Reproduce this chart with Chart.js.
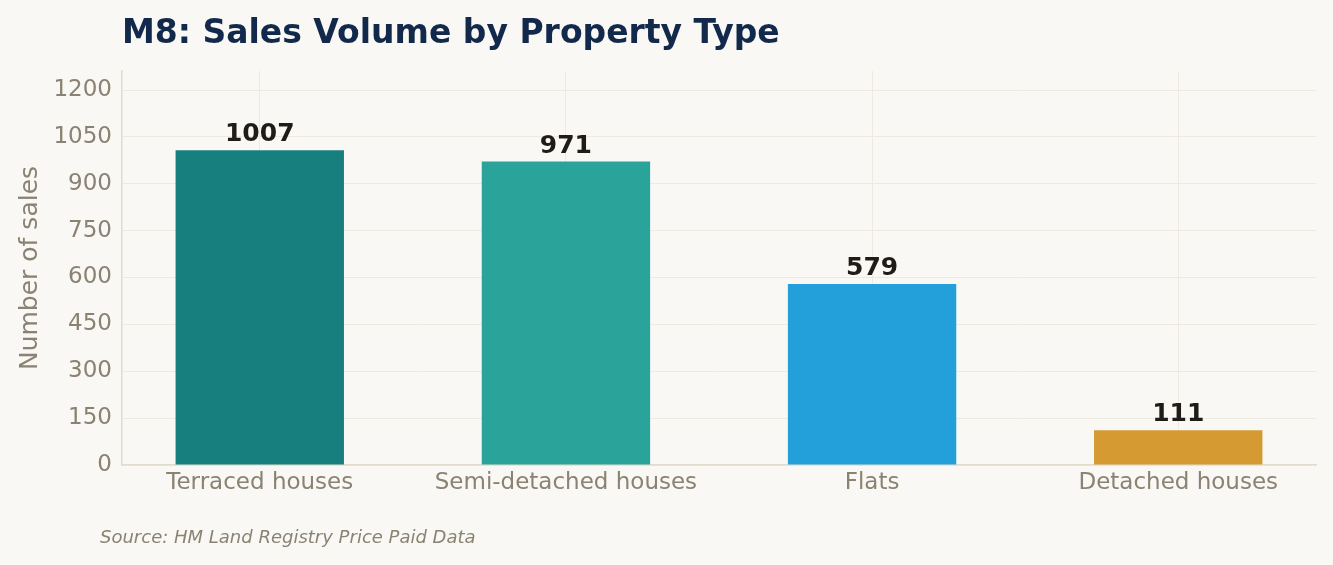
<!DOCTYPE html>
<html>
<head>
<meta charset="utf-8">
<script src="https://cdn.jsdelivr.net/npm/chart.js@4"></script>
<style>
  html, body { margin: 0; padding: 0; background: #f9f8f4; }
  #wrap { width: 1333px; height: 565px; }
</style>
</head>
<body>
<div id="wrap"><canvas id="salesChart" width="1333" height="565"></canvas></div>
<script>
'use strict';

// Chart data
const categories = ['Terraced houses', 'Semi-detached houses', 'Flats', 'Detached houses'];
const salesCounts = [1007, 971, 579, 111];
const barColors = ['#17807e', '#2aa39b', '#239fd9', '#d69a32'];

const chartTitle = 'M8: Sales Volume by Property Type';
const yAxisTitle = 'Number of sales';
const sourceNote = 'Source: HM Land Registry Price Paid Data';

const FONT = '"DejaVu Sans", Verdana, sans-serif';
const MUTED = '#8a8272';

/**
 * Draws the title, the y-axis label, the source note and the value labels above the bars.
 */
const annotations = {
    id: 'annotations',
    afterDatasetsDraw(chart) {
        const ctx = chart.ctx;
        const meta = chart.getDatasetMeta(0);
        ctx.save();
        ctx.fillStyle = '#1f1b16';
        ctx.font = 'bold 25px ' + FONT;
        ctx.textAlign = 'center';
        ctx.textBaseline = 'alphabetic';
        meta.data.forEach((bar, i) => {
            ctx.fillText(String(salesCounts[i]), bar.x, bar.y - 9);
        });
        ctx.restore();
    },
    afterDraw(chart) {
        const ctx = chart.ctx;
        ctx.save();
        // Title
        ctx.fillStyle = '#13294b';
        ctx.font = 'bold 33px ' + FONT;
        ctx.textAlign = 'left';
        ctx.textBaseline = 'alphabetic';
        ctx.fillText(chartTitle, 122, 43);

        // Y axis title (rotated)
        ctx.fillStyle = MUTED;
        ctx.font = '25px ' + FONT;
        ctx.translate(30, (chart.chartArea.top + chart.chartArea.bottom) / 2);
        ctx.rotate(-Math.PI / 2);
        ctx.textAlign = 'center';
        ctx.textBaseline = 'middle';
        ctx.fillText(yAxisTitle, 0, 0);
        ctx.restore();

        // Source note
        ctx.save();
        ctx.fillStyle = MUTED;
        ctx.font = 'italic 18px ' + FONT;
        ctx.textAlign = 'left';
        ctx.textBaseline = 'alphabetic';
        ctx.fillText(sourceNote, 100, 543);
        ctx.restore();
    }
};

new Chart(document.getElementById('salesChart').getContext('2d'), {
    type: 'bar',
    data: {
        datasets: [{
            data: salesCounts.map((v, i) => ({ x: i, y: v })),
            backgroundColor: barColors,
            borderWidth: 0,
            barPercentage: 0.55,
            categoryPercentage: 1.0
        }]
    },
    options: {
        responsive: false,
        animation: false,
        devicePixelRatio: 1,
        layout: {
            padding: { left: 0, right: 17, top: 71, bottom: 0 }
        },
        plugins: {
            legend: { display: false },
            title: { display: false },
            tooltip: { enabled: false }
        },
        scales: {
            x: {
                type: 'linear',
                min: -0.45,
                max: 3.45,
                offset: false,
                afterFit(scale) { scale.height = 100; },
                grid: { color: '#eeeae1', lineWidth: 1, drawTicks: false, offset: false },
                border: { color: '#e2dccd', width: 1.5 },
                ticks: {
                    stepSize: 1,
                    includeBounds: false,
                    maxRotation: 0,
                    autoSkip: false,
                    color: MUTED,
                    font: { family: FONT, size: 23 },
                    padding: 4,
                    callback: (value) => categories[Math.round(value)] || ''
                }
            },
            y: {
                min: 0,
                max: 1261,
                afterFit(scale) { scale.width = 122; },
                grid: { color: '#eeeae1', lineWidth: 1, drawTicks: false },
                border: { color: '#e2dccd', width: 1.5 },
                ticks: {
                    stepSize: 150,
                    includeBounds: false,
                    color: MUTED,
                    font: { family: FONT, size: 23 },
                    padding: 10,
                    callback: (value) => String(value)
                }
            }
        }
    },
    plugins: [annotations]
});
</script>
</body>
</html>
